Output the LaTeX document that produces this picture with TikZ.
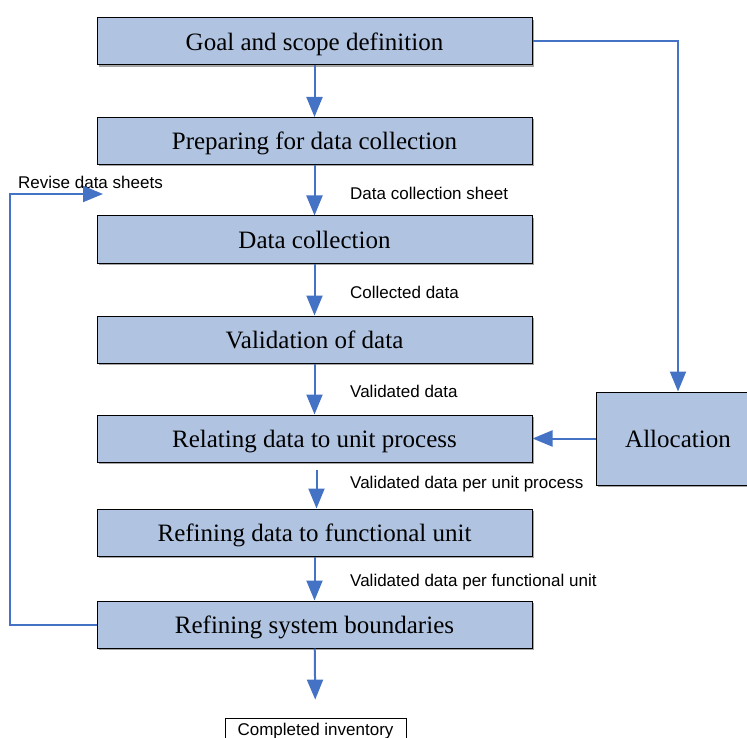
\documentclass[tikz,border=0pt]{standalone}
\usepackage{fontspec}
\setmainfont{Liberation Serif}
\newfontfamily\labelfont{Liberation Sans}
\usetikzlibrary{arrows.meta,shadows}
\definecolor{boxfill}{RGB}{176,196,226}
\definecolor{flowblue}{RGB}{68,114,196}
\begin{document}
\begin{tikzpicture}[x=1pt,y=-1pt,
    stage/.style={draw, line width=1pt, fill=boxfill, minimum width=435pt, minimum height=47pt,
        font=\fontsize{25}{27}\selectfont, text height=22pt, text depth=4pt,
        drop shadow={shadow xshift=2pt, shadow yshift=-2pt, fill=black!35, opacity=1}},
    flow/.style={draw=flowblue, line width=2pt, -{Triangle[length=20pt,width=16pt]}},
    note/.style={anchor=west, inner sep=0pt, font=\labelfont\fontsize{17}{19}\selectfont}]
            \clip (0,0) rectangle (747,738);
            %Stages
            \node [stage] (goal)at(314.5,41.5){Goal and scope definition};
            \node [stage] (prep)at(314.5,141){Preparing for data collection};
            \node [stage] (coll)at(314.5,239.5){Data collection};
            \node [stage] (valid)at(314.5,339.5){Validation of data};
            \node [stage] (relate)at(314.5,438.5){Relating data to unit process};
            \node [stage] (refunit)at(314.5,532.5){Refining data to functional unit};
            \node [stage] (bound)at(314.5,624.5){Refining system boundaries};

            %Allocation
            \node [stage, minimum width=164pt, minimum height=93pt]
            (alloc)at(678,438.5){Allocation};

            %Result
            \node [draw, line width=0.8pt, fill=white, minimum width=181pt, minimum height=22pt,
                inner sep=0pt, text height=15pt, text depth=2pt, font=\labelfont\fontsize{17}{19}\selectfont]
            (inv)at(315.5,729){Completed inventory};

            %Labels
            \node [note] (lrev)at(18,182){Revise data sheets};
            \node [note] (lsheet)at(350,193){Data collection sheet};
            \node [note] (lcoll)at(350,292){Collected data};
            \node [note] (lvalid)at(350,391){Validated data};
            \node [note] (lunit)at(350,484){Validated data per unit process};
            \node [note] (lfunc)at(350,582){Validated data per functional unit};

            \coordinate (revtip)at(103,194);

            \draw [flow](goal)--(prep);
            \draw [flow](prep)--(coll);
            \draw [flow](coll)--(valid);
            \draw [flow](valid)--(relate);
            \draw [flow]([xshift=2pt,yshift=-7pt]relate.south)--([xshift=2pt]refunit.north);
            \draw [flow](refunit)--(bound);
            \draw [flow, shorten >=18pt](bound)--(inv);
            \draw [flow](goal.east)-|(alloc.north);
            \draw [flow](alloc.west)--(relate.east);
            \draw [flow](bound.west)--++(-87,0)|-(revtip);

        \end{tikzpicture}
\end{document}
